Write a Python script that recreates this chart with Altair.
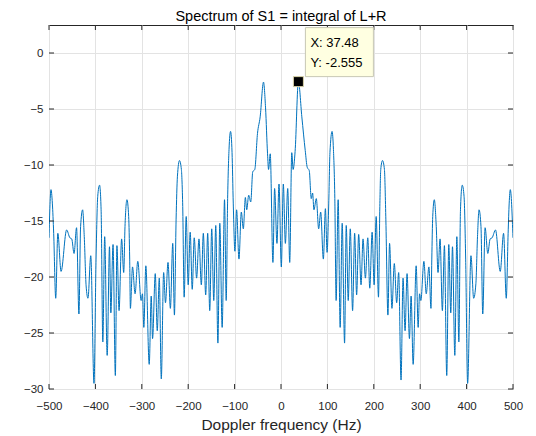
import altair as alt
import pandas as pd

# ---- data ----
freq_hz = [
    -500.0, -495.7, -492.8, -489.9, -485.5, -481.0, -474.0, -462.0, -455.0, -451.0,
    -446.0, -440.6, -435.5, -431.9, -427.5, -424.0, -420.0, -416.0, -410.0, -403.0,
    -398.6, -395.0, -391.0, -387.7, -384.0, -380.0, -374.6, -369.6, -366.7, -362.0,
    -357.0, -353.6, -349.0, -343.5, -339.0, -336.2, -332.0, -328.3, -326.1, -324.6,
    -320.0, -314.5, -308.7, -301.4, -298.6, -295.6, -291.3, -284.0, -279.7, -276.8,
    -271.0, -266.7, -262.3, -258.0, -252.9, -249.0, -243.5, -238.4, -233.3, -229.7,
    -226.1, -223.2, -218.8, -214.7, -211.8, -208.7, -204.3, -200.0, -195.7, -191.3,
    -187.0, -181.9, -176.8, -171.7, -167.4, -162.3, -158.0, -153.6, -149.3, -144.9,
    -140.6, -136.0, -131.9, -126.8, -121.7, -118.1, -115.0, -112.0, -108.7, -105.5,
    -102.9, -99.3, -95.7, -90.6, -85.5, -81.2, -76.8, -73.9, -69.6, -65.2,
    -60.9, -56.5, -50.7, -44.9, -37.7, -33.3, -29.0, -26.8, -23.2, -17.4,
    -13.8, -8.7, -4.3, 0.7, 5.0, 9.4, 14.5, 18.8, 23.2, 26.1,
    30.4, 37.48, 44.9, 52.2, 56.5, 60.9, 65.2, 68.1, 71.0, 76.1,
    81.2, 85.5, 91.3, 95.7, 99.3, 102.9, 105.5, 110.1, 113.0, 116.0,
    118.8, 123.2, 127.5, 131.9, 137.0, 140.6, 144.9, 149.3, 154.3, 158.7,
    163.0, 167.4, 172.5, 176.8, 181.9, 187.0, 191.3, 196.4, 200.7, 205.1,
    210.1, 213.0, 215.0, 218.8, 222.9, 226.0, 230.4, 234.0, 239.1, 244.2,
    249.3, 253.6, 258.7, 263.0, 267.4, 271.7, 276.8, 280.4, 284.8, 291.3,
    295.6, 298.6, 301.4, 308.0, 313.0, 318.8, 323.2, 325.0, 327.0, 330.4,
    334.6, 338.4, 342.8, 347.8, 352.2, 357.2, 361.6, 365.9, 369.6, 374.6,
    379.0, 383.3, 386.8, 390.6, 394.5, 398.0, 402.2, 409.4, 415.2, 420.0,
    423.5, 426.8, 431.0, 434.8, 439.9, 445.7, 450.7, 455.0, 462.3, 472.5,
    479.7, 485.5, 489.5, 491.8, 494.2, 500.0,
]
level_db = [
    -16.5, -12.2, -13.4, -16.1, -21.9, -16.1, -19.5, -15.8, -16.5, -16.6,
    -17.9, -15.6, -23.3, -15.5, -14.0, -16.4, -20.8, -21.9, -18.1, -29.5,
    -18.4, -12.8, -11.8, -14.0, -25.8, -16.4, -27.0, -17.3, -23.2, -17.1,
    -28.8, -17.2, -23.0, -16.6, -19.6, -15.5, -13.1, -14.6, -18.4, -22.8,
    -19.1, -21.5, -18.6, -22.1, -21.5, -24.5, -19.0, -27.8, -21.7, -25.5,
    -19.7, -24.8, -20.1, -29.1, -19.6, -22.3, -18.7, -22.8, -17.0, -23.4,
    -14.9, -11.0, -9.6, -10.4, -13.7, -21.8, -14.6, -20.7, -16.0, -21.1,
    -16.5, -20.1, -16.6, -20.7, -16.1, -21.6, -16.1, -23.0, -15.7, -22.1,
    -15.4, -25.9, -15.2, -24.5, -13.1, -22.1, -13.0, -8.6, -7.0, -8.9,
    -13.4, -17.7, -14.0, -18.4, -14.2, -15.7, -12.9, -14.0, -12.7, -13.3,
    -10.6, -10.4, -7.2, -5.7, -2.6, -4.9, -9.0, -10.4, -9.0, -18.7,
    -12.1, -17.0, -11.7, -19.1, -11.7, -17.0, -12.1, -18.7, -8.9, -10.4,
    -8.8, -2.555, -5.7, -8.7, -10.2, -10.5, -13.0, -12.5, -14.0, -13.0,
    -15.7, -14.2, -18.4, -13.9, -17.8, -13.4, -8.9, -7.0, -8.6, -13.0,
    -22.1, -13.1, -24.5, -15.2, -25.9, -15.4, -22.1, -15.7, -23.0, -16.1,
    -21.6, -16.2, -20.7, -16.6, -20.1, -16.5, -21.0, -16.0, -20.7, -14.6,
    -21.8, -13.7, -10.4, -9.6, -10.4, -14.9, -23.4, -17.0, -22.8, -18.8,
    -22.3, -19.6, -29.2, -20.1, -24.8, -19.7, -25.5, -21.7, -27.8, -19.0,
    -24.5, -21.5, -22.1, -18.6, -21.5, -19.1, -22.8, -18.4, -14.6, -13.1,
    -15.5, -19.6, -16.6, -23.0, -17.2, -28.8, -17.1, -23.2, -17.3, -27.0,
    -16.4, -25.8, -14.0, -11.8, -12.8, -18.4, -29.5, -18.1, -21.9, -20.6,
    -16.4, -14.0, -15.5, -23.3, -15.6, -17.9, -16.6, -16.5, -15.8, -19.5,
    -16.1, -21.9, -16.1, -13.4, -12.2, -16.5,
]
x_ticks = [-500, -400, -300, -200, -100, 0, 100, 200, 300, 400, 500]
y_ticks = [-30, -25, -20, -15, -10, -5, 0]
tip_x = [37.48]
tip_y = [-2.555]

W, H = 464, 364
AXIS_COL = "#262626"
FONT = "Liberation Sans"

spec_df = pd.DataFrame({"freq": freq_hz, "level": level_db})
xt_df = pd.DataFrame({"freq": x_ticks})
yt_df = pd.DataFrame({"level": y_ticks})
tip_df = pd.DataFrame({
    "freq": tip_x,
    "level": tip_y,
    "lx": [f"X: {v}" for v in tip_x],
    "ly": [f"Y: {v}" for v in tip_y],
})

xscale = alt.Scale(domain=[-500, 500], nice=False, zero=False)
yscale = alt.Scale(domain=[-30, 2.5], nice=False, zero=False)

xaxis = alt.Axis(values=x_ticks, title="Doppler frequency (Hz)", grid=True,
                 tickSize=0, domain=False, labelPadding=11, titlePadding=6,
                 labelFlush=False)
yaxis = alt.Axis(values=y_ticks, title=None, grid=True, tickSize=0,
                 domain=False, labelPadding=6)

line = alt.Chart(spec_df).mark_line(
    color="#0072BD", strokeWidth=1, interpolate="monotone", clip=True
).encode(
    x=alt.X("freq:Q", scale=xscale, axis=xaxis),
    y=alt.Y("level:Q", scale=yscale, axis=yaxis),
)

xt_bottom = alt.Chart(xt_df).mark_rule(color=AXIS_COL, strokeWidth=1).encode(
    x=alt.X("freq:Q", scale=xscale), y=alt.value(H - 5), y2=alt.value(H))
xt_top = alt.Chart(xt_df).mark_rule(color=AXIS_COL, strokeWidth=1).encode(
    x=alt.X("freq:Q", scale=xscale), y=alt.value(0), y2=alt.value(5))
yt_left = alt.Chart(yt_df).mark_rule(color=AXIS_COL, strokeWidth=1).encode(
    y=alt.Y("level:Q", scale=yscale), x=alt.value(0), x2=alt.value(5))
yt_right = alt.Chart(yt_df).mark_rule(color=AXIS_COL, strokeWidth=1).encode(
    y=alt.Y("level:Q", scale=yscale), x=alt.value(W - 5), x2=alt.value(W))

tip_box = alt.Chart(tip_df).mark_rect(
    fill="#ffffe1", stroke="#c8c8b4", strokeWidth=1,
    xOffset=7, x2Offset=75, yOffset=-54, y2Offset=-5,
).encode(
    x=alt.X("freq:Q", scale=xscale), x2="freq:Q",
    y=alt.Y("level:Q", scale=yscale), y2="level:Q",
)
tip_marker = alt.Chart(tip_df).mark_square(
    size=100, color="black", opacity=1, stroke="#d8d2a8", strokeWidth=1
).encode(
    x=alt.X("freq:Q", scale=xscale), y=alt.Y("level:Q", scale=yscale),
)
tip_t1 = alt.Chart(tip_df).mark_text(
    align="left", baseline="alphabetic", dx=12, dy=-35, font=FONT,
    fontSize=13, color="black"
).encode(x=alt.X("freq:Q", scale=xscale), y=alt.Y("level:Q", scale=yscale), text="lx:N")
tip_t2 = alt.Chart(tip_df).mark_text(
    align="left", baseline="alphabetic", dx=12, dy=-15, font=FONT,
    fontSize=13, color="black"
).encode(x=alt.X("freq:Q", scale=xscale), y=alt.Y("level:Q", scale=yscale), text="ly:N")

chart = alt.layer(
    line, xt_bottom, xt_top, yt_left, yt_right, tip_box, tip_marker, tip_t1, tip_t2
).properties(
    width=W, height=H,
    title=alt.TitleParams("Spectrum of S1 = integral of L+R", fontSize=14.5,
                          fontWeight="normal", font=FONT, color="black",
                          anchor="middle", offset=0),
    autosize=alt.AutoSizeParams(type="none"),
    padding={"left": 41, "top": 17, "right": 15, "bottom": 47},
    background="white",
).configure_view(
    stroke=AXIS_COL, strokeWidth=1
).configure_axis(
    gridColor="#e3e3e3", gridWidth=1, labelFont=FONT, titleFont=FONT,
    labelColor=AXIS_COL, titleColor=AXIS_COL, labelFontSize=11.5,
    titleFontSize=15.5, titleFontWeight="normal",
)

chart.save("out.html", embed_options={"renderer": "svg", "actions": False})
